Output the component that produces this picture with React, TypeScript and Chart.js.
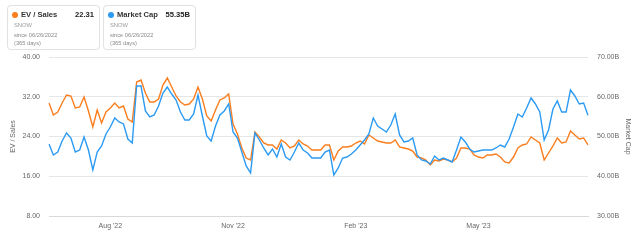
import React, { useEffect, useRef } from 'react';
import { Chart, registerables } from 'chart.js';

Chart.register(...registerables);

// EV / Sales (left axis), SNOW, since 06/26/2022
const evSales = [
  30.74, 28.33, 28.93, 30.74, 32.35, 32.15, 29.74, 29.94, 31.95, 29.13,
  25.91, 29.33, 26.72, 28.93, 29.74, 30.74, 29.74, 30.14, 27.52, 26.92,
  34.97, 35.37, 32.75, 30.94, 30.94, 31.55, 34.36, 35.77, 33.96, 32.15,
  30.94, 30.34, 30.54, 31.55, 33.96, 31.55, 28.13, 27.12, 29.33, 31.35,
  31.75, 32.55, 26.52, 24.5, 21.69, 19.67, 19.27, 24.91, 23.9, 22.69,
  22.29, 22.29, 21.48, 23.3, 22.69, 21.69, 22.09, 23.3, 22.49, 22.09,
  21.28, 21.28, 21.28, 22.29, 22.29, 19.27, 21.08, 21.89, 21.89, 22.09,
  22.69, 23.09, 22.49, 24.3, 23.7, 23.09, 22.89, 22.69, 22.69, 23.3,
  21.89, 21.69, 21.48, 21.08, 19.87, 19.67, 19.27, 18.26, 19.27, 19.07,
  19.47, 19.27, 18.87, 19.67, 21.69, 21.69, 21.48, 20.28, 19.87, 19.67,
  20.28, 20.28, 20.48, 19.87, 18.87, 18.67, 19.87, 21.69, 22.29, 22.49,
  23.9, 23.3, 22.69, 19.27, 20.68, 22.09, 23.7, 22.69, 22.89, 25.11,
  24.3, 23.5, 23.7, 22.31,
];

// Market Cap in billions (right axis)
const marketCap = [
  48.11, 45.35, 46.1, 48.87, 50.88, 49.62, 46.1, 46.6, 49.87, 46.6,
  41.58, 46.1, 47.61, 50.63, 52.39, 54.65, 53.65, 53.15, 49.37, 48.36,
  62.7, 62.7, 56.42, 54.91, 55.41, 57.67, 60.94, 62.45, 60.69, 59.18,
  56.16, 54.15, 54.15, 55.66, 60.44, 55.16, 50.13, 48.87, 52.64, 55.41,
  56.42, 58.18, 51.13, 49.62, 46.1, 42.58, 40.82, 50.88, 49.12, 47.11,
  45.35, 46.86, 44.84, 48.11, 44.84, 44.09, 46.1, 48.36, 46.6, 45.85,
  44.59, 44.59, 44.59, 46.1, 46.6, 40.31, 42.08, 44.59, 44.84, 45.6,
  46.6, 47.86, 49.12, 50.63, 54.65, 52.64, 51.89, 51.13, 52.89, 55.66,
  50.38, 48.62, 48.87, 49.62, 45.35, 44.09, 43.84, 43.08, 45.09, 44.09,
  44.59, 44.09, 43.59, 46.6, 49.87, 48.62, 46.86, 46.1, 46.35, 46.6,
  46.6, 46.6, 47.11, 47.86, 47.36, 49.37, 52.39, 55.66, 54.91, 57.17,
  59.69, 58.18, 56.16, 49.12, 51.64, 56.92, 58.93, 56.16, 56.16, 61.7,
  60.19, 58.18, 58.43, 55.35,
];

const tickIndex = [14, 42, 70, 98];
const tickText = ["Aug '22", "Nov '22", "Feb '23", "May '23"];

const leftMin = 8;
const leftMax = 40;
const leftStep = 8;
const rightMin = 30;
const rightMax = 70;
const rightStep = 10;

const ORANGE = '#fa7d1e';
const BLUE = '#2b9af3';
const FONT = "'Liberation Sans', Arial, Helvetica, sans-serif";

const categories = evSales.map((_, i) => {
  const k = tickIndex.indexOf(i);
  return k >= 0 ? tickText[k] : '';
});

function LegendBox(props: { left: number; color: string; title: string; value: string }) {
  const { left, color, title, value } = props;
  const small: React.CSSProperties = {
    position: 'absolute',
    left: 6,
    fontSize: 5.7,
    lineHeight: '8px',
    color: '#8a8a8a',
    whiteSpace: 'nowrap',
  };
  return (
    <div
      style={{
        position: 'absolute',
        left,
        top: 5,
        width: 91,
        height: 43,
        border: '1px solid #e2e2e2',
        borderRadius: 4,
        background: '#fff',
        boxShadow: '0 0 1px rgba(0,0,0,0.05)',
        fontFamily: FONT,
      }}
    >
      <div
        style={{
          position: 'absolute',
          left: 4,
          top: 6,
          width: 6,
          height: 6,
          borderRadius: 3,
          background: color,
        }}
      />
      <div
        style={{
          position: 'absolute',
          left: 13,
          top: 5,
          fontSize: 7.6,
          lineHeight: '8px',
          color: '#333',
          fontWeight: 600,
          whiteSpace: 'nowrap',
        }}
      >
        {title}
      </div>
      <div
        style={{
          position: 'absolute',
          right: 5,
          top: 5,
          fontSize: 7.6,
          lineHeight: '8px',
          color: '#222',
          fontWeight: 700,
          whiteSpace: 'nowrap',
        }}
      >
        {value}
      </div>
      <div style={{ ...small, top: 15, fontSize: 5.8, color: '#9a9a9a' }}>SNOW</div>
      <div style={{ ...small, top: 25 }}>since 06/26/2022</div>
      <div style={{ ...small, top: 32.5 }}>(365 days)</div>
    </div>
  );
}

export default function App() {
  const canvasRef = useRef<HTMLCanvasElement | null>(null);

  useEffect(() => {
    const canvas = canvasRef.current;
    if (!canvas) return;
    Chart.defaults.font.family = FONT;
    const chart = new Chart(canvas, {
      type: 'line',
      data: {
        labels: categories,
        datasets: [
          {
            label: 'Market Cap',
            data: marketCap,
            yAxisID: 'y1',
            borderColor: BLUE,
            backgroundColor: BLUE,
            borderWidth: 1.4,
            pointRadius: 0,
            tension: 0,
            order: 0,
          },
          {
            label: 'EV / Sales',
            data: evSales,
            yAxisID: 'y',
            borderColor: ORANGE,
            backgroundColor: ORANGE,
            borderWidth: 1.4,
            pointRadius: 0,
            tension: 0,
            order: 1,
          },
        ],
      },
      options: {
        responsive: false,
        animation: false,
        events: [],
        layout: { padding: { top: 57, left: 0, right: 0, bottom: 0 } },
        plugins: {
          legend: { display: false },
          tooltip: { enabled: false },
          title: { display: false },
        },
        scales: {
          x: {
            type: 'category',
            offset: false,
            afterFit: (scale: any) => {
              scale.height = 25;
            },
            border: { display: true, color: '#d9d9d9' },
            grid: {
              drawOnChartArea: false,
              drawTicks: true,
              tickLength: 4,
              color: (ctx: any) => (categories[ctx.index] ? '#d0d0d0' : 'rgba(0,0,0,0)'),
            },
            ticks: {
              autoSkip: false,
              maxRotation: 0,
              minRotation: 0,
              padding: 2,
              color: '#666',
              font: { size: 7 },
              callback: (_v: any, i: number) => (categories[i] ? categories[i] : null),
            },
          },
          y: {
            type: 'linear',
            position: 'left',
            min: leftMin,
            max: leftMax,
            afterFit: (scale: any) => {
              scale.width = 49;
            },
            border: { display: false },
            grid: { color: '#e6e6e6', drawTicks: false, lineWidth: 1 },
            ticks: {
              stepSize: leftStep,
              padding: 9,
              color: '#666',
              font: { size: 7 },
              callback: (v: any) => Number(v).toFixed(2),
            },
            title: {
              display: true,
              text: 'EV / Sales',
              color: '#666',
              font: { size: 7 },
              padding: { top: 9, bottom: 0 },
            },
          },
          y1: {
            type: 'linear',
            position: 'right',
            min: rightMin,
            max: rightMax,
            afterFit: (scale: any) => {
              scale.width = 52;
            },
            border: { display: false },
            grid: { drawOnChartArea: false, drawTicks: false },
            ticks: {
              stepSize: rightStep,
              padding: 9,
              color: '#666',
              font: { size: 7 },
              callback: (v: any) => Number(v).toFixed(2) + 'B',
            },
            title: {
              display: true,
              text: 'Market Cap',
              color: '#666',
              font: { size: 7 },
              padding: { top: 8, bottom: 0 },
            },
          },
        },
      },
    });
    return () => {
      chart.destroy();
    };
  }, []);

  return (
    <div
      style={{
        position: 'fixed',
        left: 0,
        top: 0,
        width: 640,
        height: 241,
        background: '#fff',
        overflow: 'hidden',
      }}
    >
      <canvas
        ref={canvasRef}
        width={640}
        height={241}
        style={{ position: 'absolute', left: 0, top: 0, width: 640, height: 241 }}
      />
      <LegendBox left={7} color={ORANGE} title="EV / Sales" value="22.31" />
      <LegendBox left={103} color={BLUE} title="Market Cap" value="55.35B" />
    </div>
  );
}
